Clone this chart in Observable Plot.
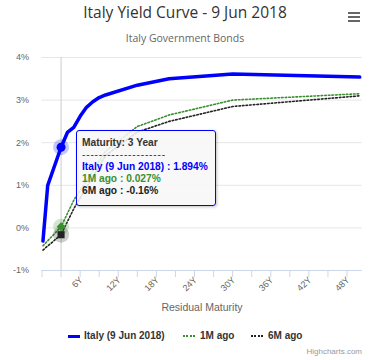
<!DOCTYPE html>
<html>
<head>
<meta charset="utf-8">
<script src="https://cdn.jsdelivr.net/npm/d3@7"></script>
<script src="https://cdn.jsdelivr.net/npm/@observablehq/plot@0.6"></script>
<style>
  body { margin: 0; background: #fff; font-family: "Lucida Grande", "Lucida Sans Unicode", Arial, "Liberation Sans", Helvetica, sans-serif; }
  #wrap { position: relative; width: 370px; height: 360px; overflow: hidden; }
  #header { position: relative; width: 370px; height: 48px; }
  #title { position: absolute; left: 0; width: 370px; top: 5px; text-align: center; font-family: "Open Sans", sans-serif; font-size: 15.5px; line-height: 15.5px; color: #333; }
  #subtitle { position: absolute; left: 0; width: 370px; top: 33px; text-align: center; font-family: "Open Sans", sans-serif; font-size: 10.5px; line-height: 10.5px; color: #666; }
  #menu { position: absolute; left: 348px; top: 12px; width: 12px; }
  #menu div { height: 2px; background: #666; margin-bottom: 2px; }
  #chart { position: relative; width: 370px; height: 272px; }
  #chart svg { display: block; }
  #tooltip { position: absolute; left: 76px; top: 82px; width: 138px; height: 74px; background: rgba(247,247,247,0.88); border: 1px solid #0000ff; border-radius: 3px; box-shadow: 1px 1px 3px rgba(0,0,0,0.25); font-size: 10.2px; font-weight: bold; line-height: 12px; }
  #tooltip div { position: absolute; left: 5px; white-space: nowrap; }
  #legend { position: relative; width: 370px; height: 40px; font-size: 10px; font-weight: bold; color: #333; }
  .sym { position: absolute; width: 12px; }
  .lab { position: absolute; line-height: 10px; white-space: nowrap; }
  #credit { position: absolute; right: 8px; top: 28px; font-size: 8px; line-height: 8px; color: #999; font-weight: normal; }
</style>
</head>
<body>
<div id="wrap">
  <div id="header">
    <div id="title">Italy Yield Curve - 9 Jun 2018</div>
    <div id="subtitle">Italy Government Bonds</div>
    <div id="menu"><div></div><div></div><div></div></div>
  </div>
  <div id="chart"></div>
  <div id="legend"></div>
</div>
<script>
// Maturities (years) and yields (%)
const italyMaturity = [0.15, 0.9, 3, 4, 5, 6, 7, 8, 9, 10, 15, 20, 30, 50];
const italyYield    = [-0.31, 1.0, 1.894, 2.24, 2.36, 2.62, 2.83, 2.96, 3.06, 3.12, 3.35, 3.5, 3.61, 3.54];

const m1Maturity = [0.15, 3, 5, 10, 15, 20, 30, 50];
const m1Yield    = [-0.42, 0.027, 0.65, 1.8, 2.38, 2.65, 3.0, 3.15];

const m6Maturity = [0.15, 3, 5, 10, 15, 20, 30, 50];
const m6Yield    = [-0.52, -0.16, 0.45, 1.7, 2.25, 2.5, 2.85, 3.1];

const yTicks = [-1, 0, 1, 2, 3, 4];
const xTickMarks = [0, 3, 6, 9, 12, 15, 18, 21, 24, 27, 30, 33, 36, 39, 42, 45, 48];
const xTickLabels = [6, 12, 18, 24, 30, 36, 42, 48];

const seriesNames = ["Italy (9 Jun 2018)", "1M ago", "6M ago"];
const seriesColors = ["#0000ff", "#3a8f2e", "#222222"];
const hoverMaturity = 3;

const italy = italyMaturity.map((x, i) => ({x, y: italyYield[i]}));
const m1 = m1Maturity.map((x, i) => ({x, y: m1Yield[i]}));
const m6 = m6Maturity.map((x, i) => ({x, y: m6Yield[i]}));
const hover = [italy, m1, m6].map((s, i) => ({x: hoverMaturity, y: s.find(d => d.x === hoverMaturity).y, i}));

const font = '"Lucida Grande", "Lucida Sans Unicode", Arial, "Liberation Sans", sans-serif';

const chart = Plot.plot({
  width: 370,
  height: 272,
  marginTop: 9,
  marginBottom: 50,
  marginLeft: 41.5,
  marginRight: 8.5,
  style: {fontFamily: font, background: "transparent"},
  x: {domain: [0, 50.36], label: null},
  y: {domain: [-1, 4], label: null},
  marks: [
    Plot.gridY(yTicks, {stroke: "#e6e6e6", strokeOpacity: 1}),
    Plot.ruleX([hoverMaturity], {stroke: "#cccccc", strokeWidth: 1}),
    Plot.ruleY([-1], {stroke: "#ccd6eb"}),
    Plot.axisX({ticks: xTickMarks, tickSize: 7, tickFormat: () => "", stroke: "#ccd6eb", label: null}),
    Plot.axisY({ticks: yTicks, tickSize: 0, tickPadding: 13, tickFormat: d => `${d}%`, fill: "#666", fontSize: 9, label: null}),
    Plot.text(xTickLabels, {x: d => d, frameAnchor: "bottom", dy: 8, dx: 1, rotate: -45, textAnchor: "end", lineAnchor: "middle", text: d => `${d}Y`, fill: "#666", fontSize: 9}),
    Plot.text(["Residual Maturity"], {frameAnchor: "bottom", dy: 37, lineAnchor: "middle", text: d => d, fill: "#666", fontSize: 10.5}),
    Plot.line(m6, {x: "x", y: "y", stroke: seriesColors[2], strokeWidth: 1.6, strokeDasharray: "1.6,2"}),
    Plot.line(m1, {x: "x", y: "y", stroke: seriesColors[1], strokeWidth: 1.6, strokeDasharray: "1.6,2"}),
    Plot.line(italy, {x: "x", y: "y", stroke: seriesColors[0], strokeWidth: 3.5}),
    Plot.dot(hover, {x: "x", y: "y", r: 8, fill: d => seriesColors[d.i], fillOpacity: 0.22, stroke: "none"}),
    Plot.dot([hover[0]], {x: "x", y: "y", r: 4.5, fill: seriesColors[0], stroke: "none"}),
    Plot.dot([hover[1]], {x: "x", y: "y", r: 4, symbol: "diamond2", fill: seriesColors[1], stroke: "none"}),
    Plot.dot([hover[2]], {x: "x", y: "y", r: 4, symbol: "square", fill: seriesColors[2], stroke: "none"})
  ]
});
document.getElementById("chart").appendChild(chart);

// Tooltip
const tip = document.createElement("div");
tip.id = "tooltip";
const fmt = v => (v < 0 ? "-" : "") + Math.abs(v).toString() + "%";
const lines = [
  {t: `Maturity: ${hoverMaturity} Year`, c: "#333", top: 6},
  {t: "--------------------", c: "#333", top: 18, ls: "0.8px"},
  {t: `${seriesNames[0]} : ${fmt(hover[0].y)}`, c: seriesColors[0], top: 30},
  {t: `${seriesNames[1]} : ${fmt(hover[1].y)}`, c: seriesColors[1], top: 42},
  {t: `${seriesNames[2]} : ${fmt(hover[2].y)}`, c: seriesColors[2], top: 54}
];
for (const l of lines) {
  const d = document.createElement("div");
  d.textContent = l.t;
  d.style.color = l.c;
  d.style.top = l.top + "px";
  if (l.ls) { d.style.letterSpacing = l.ls; d.style.fontWeight = "normal"; }
  tip.appendChild(d);
}
document.getElementById("chart").appendChild(tip);

// Legend
const legend = document.getElementById("legend");
const legendPos = [{sx: 68, tx: 84}, {sx: 183, tx: 200}, {sx: 251, tx: 268}];
seriesNames.forEach((name, i) => {
  const s = document.createElement("div");
  s.className = "sym";
  s.style.left = legendPos[i].sx + "px";
  if (i === 0) {
    s.style.top = "14.5px";
    s.style.height = "3px";
    s.style.background = seriesColors[i];
  } else {
    s.style.top = "15px";
    s.style.borderTop = `2px dotted ${seriesColors[i]}`;
  }
  legend.appendChild(s);
  const t = document.createElement("div");
  t.className = "lab";
  t.style.left = legendPos[i].tx + "px";
  t.style.top = "11px";
  t.textContent = name;
  legend.appendChild(t);
});
const credit = document.createElement("div");
credit.id = "credit";
credit.textContent = "Highcharts.com";
legend.appendChild(credit);
</script>
</body>
</html>
